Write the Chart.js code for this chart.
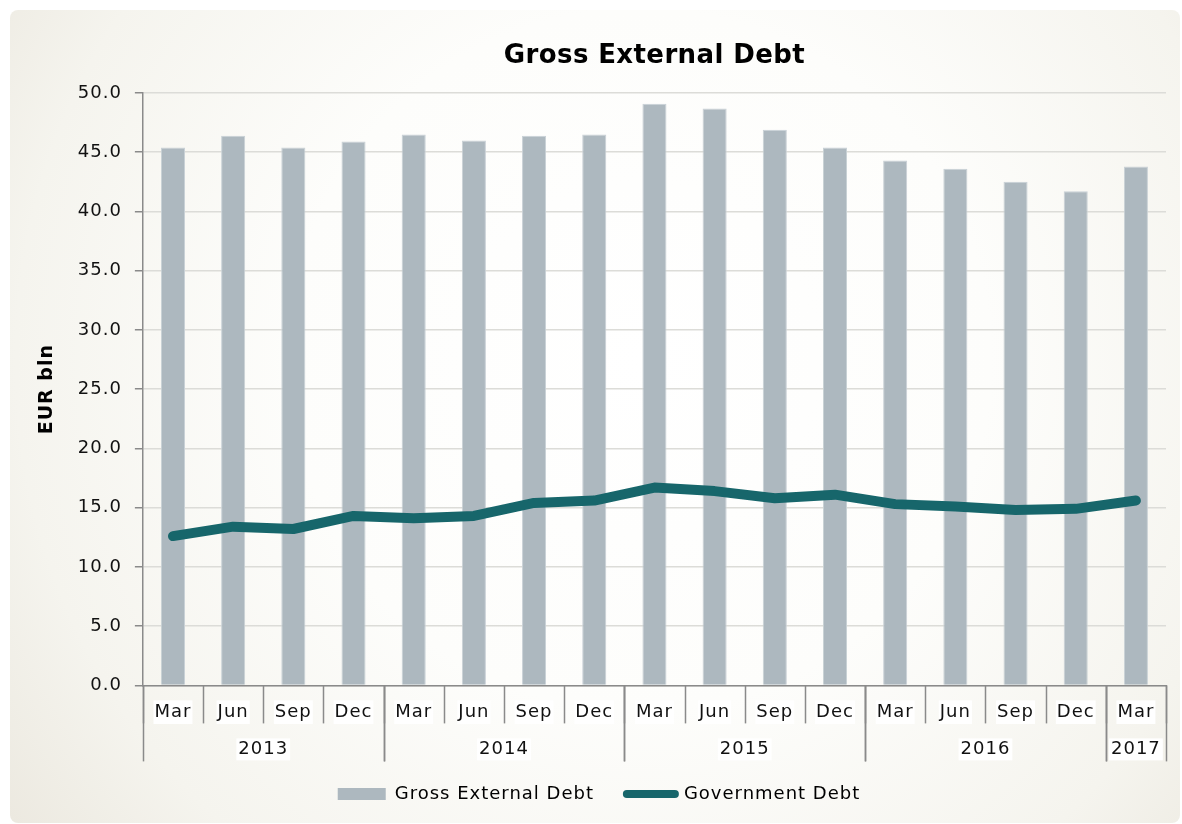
<!DOCTYPE html>
<html>
<head>
<meta charset="utf-8">
<script src="https://cdn.jsdelivr.net/npm/chart.js@4.4.1/dist/chart.umd.min.js"></script>
<style>
  html, body { margin: 0; padding: 0; background: #ffffff; }
  #wrap { position: relative; width: 1182px; height: 824px; }
</style>
</head>
<body>
<div id="wrap"><canvas id="chart"></canvas></div>
<script>
// quarterly categories and the year groups under them
const months = ['Mar', 'Jun', 'Sep', 'Dec', 'Mar', 'Jun', 'Sep', 'Dec', 'Mar', 'Jun', 'Sep', 'Dec', 'Mar', 'Jun', 'Sep', 'Dec', 'Mar'];
const yearLabels = ['2013', '2014', '2015', '2016', '2017'];
const yearSpans = [4, 4, 4, 4, 1];

// EUR bln
const grossDebt = [45.4, 46.4, 45.4, 45.9, 46.5, 46.0, 46.4, 46.5, 49.1, 48.7, 46.9, 45.4, 44.3, 43.6, 42.5, 41.7, 43.8];
const govDebt = [12.6, 13.4, 13.2, 14.3, 14.1, 14.3, 15.4, 15.6, 16.7, 16.4, 15.8, 16.1, 15.3, 15.1, 14.8, 14.9, 15.6];

const yTicks = [0, 5, 10, 15, 20, 25, 30, 35, 40, 45, 50];
const chartTitle = 'Gross External Debt';

const FONT = "'DejaVu Sans', 'Liberation Sans', sans-serif";
const BAR = '#adb8bf';
const LINE = '#17666b';
const AXIS = '#8a8a8a';

// the source font is wider than DejaVu, so open the letters up a bit
const spacingPlugin = {
  id: 'spacing',
  beforeLayout(chart) { chart.ctx.letterSpacing = '1px'; },
  beforeDraw(chart) { chart.ctx.letterSpacing = '1px'; }
};

// rounded beige frame with a soft radial glow in the middle
const backgroundPlugin = {
  id: 'frameBg',
  beforeDraw(chart) {
    const ctx = chart.ctx;
    const x0 = 10, y0 = 10, w = 1170, h = 813, r = 8;
    ctx.save();
    const g = ctx.createRadialGradient(640, 360, 0, 640, 360, 780);
    g.addColorStop(0, '#ffffff');
    g.addColorStop(0.45, '#fdfdfb');
    g.addColorStop(0.8, '#f5f4ee');
    g.addColorStop(1, '#ece9e0');
    ctx.fillStyle = g;
    ctx.beginPath();
    ctx.roundRect(x0, y0, w, h, r);
    ctx.fill();
    ctx.restore();
  }
};

// title centred over the plot area, like the source
const titlePlugin = {
  id: 'plotTitle',
  afterDraw(chart) {
    const ctx = chart.ctx;
    const a = chart.chartArea;
    ctx.save();
    ctx.letterSpacing = '0.4px';
    ctx.font = 'bold 26px ' + FONT;
    ctx.fillStyle = '#000000';
    ctx.textAlign = 'center';
    ctx.textBaseline = 'middle';
    ctx.fillText(chartTitle, (a.left + a.right) / 2, a.top - 37);
    ctx.restore();
  }
};

// separators between months and the year row below them
const yearRowPlugin = {
  id: 'yearRow',
  afterDraw(chart) {
    const ctx = chart.ctx;
    const xs = chart.scales.x;
    const base = chart.chartArea.bottom;
    const half = (xs.getPixelForValue(1) - xs.getPixelForValue(0)) / 2;
    ctx.save();
    ctx.strokeStyle = AXIS;
    ctx.lineWidth = 1.5;
    // short month separators
    for (let i = 0; i <= months.length; i++) {
      const px = Math.round(xs.getPixelForValue(i) - half) + 0.5;
      ctx.beginPath();
      ctx.moveTo(px, base);
      ctx.lineTo(px, base + 38);
      ctx.stroke();
    }
    // long year separators + year labels
    ctx.font = '18px ' + FONT;
    ctx.textAlign = 'center';
    ctx.textBaseline = 'middle';
    let idx = 0;
    yearLabels.forEach((yr, k) => {
      const left = xs.getPixelForValue(idx) - half;
      const right = xs.getPixelForValue(idx + yearSpans[k] - 1) + half;
      [left, right].forEach(p => {
        const px = Math.round(p) + 0.5;
        ctx.beginPath();
        ctx.moveTo(px, base);
        ctx.lineTo(px, base + 76);
        ctx.stroke();
      });
      const cx = (left + right) / 2;
      const tw = ctx.measureText(yr).width;
      ctx.fillStyle = '#ffffff';
      ctx.fillRect(cx - tw / 2 - 2, base + 53, tw + 4, 22);
      ctx.fillStyle = '#111111';
      ctx.fillText(yr, cx, base + 64);
      idx += yearSpans[k];
    });
    ctx.restore();
  }
};

const ctx = document.getElementById('chart').getContext('2d');
const chart = new Chart(ctx, {
  data: {
    labels: months,
    datasets: [
      {
        type: 'line', label: 'Government Debt', data: govDebt,
        borderColor: LINE, backgroundColor: LINE, borderWidth: 10,
        borderCapStyle: 'round', borderJoinStyle: 'round',
        pointRadius: 0, tension: 0, order: 0
      },
      {
        type: 'bar', label: 'Gross External Debt', data: grossDebt,
        backgroundColor: BAR, borderColor: '#c9d1d6', borderWidth: 1,
        categoryPercentage: 1, barPercentage: 0.4, order: 1
      }
    ]
  },
  options: {
    responsive: true,
    maintainAspectRatio: false,
    animation: false,
    layout: { padding: { top: 93, left: 32, right: 16, bottom: 11 } },
    plugins: {
      title: { display: false },
      legend: {
        position: 'bottom',
        labels: {
          color: '#111111',
          font: { family: FONT, size: 18 },
          usePointStyle: true,
          pointStyleWidth: 48,
          boxHeight: 12,
          padding: 6,
          generateLabels(c) {
            // trailing spaces keep the gap between the two entries
            return [
              { text: 'Gross External Debt    ', pointStyle: 'rect', fillStyle: BAR, strokeStyle: BAR, lineWidth: 0, datasetIndex: 1 },
              { text: 'Government Debt', pointStyle: 'line', fillStyle: LINE, strokeStyle: LINE, lineWidth: 8, lineCap: 'round', datasetIndex: 0 }
            ];
          }
        }
      },
      tooltip: { enabled: false }
    },
    scales: {
      x: {
        grid: { display: false },
        border: { display: true, color: AXIS, width: 1.5 },
        ticks: {
          color: '#111111', font: { family: FONT, size: 18 }, padding: 8,
          maxRotation: 0, autoSkip: false,
          showLabelBackdrop: true, backdropColor: '#ffffff', backdropPadding: 1
        },
        afterFit(s) { s.height += 48; }
      },
      y: {
        min: 0, max: 50,
        afterBuildTicks(s) { s.ticks = yTicks.map(v => ({ value: v })); },
        grid: { color: '#dcdcd8', lineWidth: 1.5, tickColor: AXIS, tickLength: 8 },
        border: { display: true, color: AXIS, width: 1.5 },
        ticks: {
          color: '#111111', font: { family: FONT, size: 18 }, padding: 13,
          callback: v => Number(v).toFixed(1)
        },
        title: {
          display: true, text: 'EUR bln', color: '#000000',
          font: { family: FONT, size: 19, weight: 'bold' }, padding: { top: 4, bottom: 6 }
        }
      }
    }
  },
  plugins: [spacingPlugin, backgroundPlugin, titlePlugin, yearRowPlugin]
});
</script>
</body>
</html>
